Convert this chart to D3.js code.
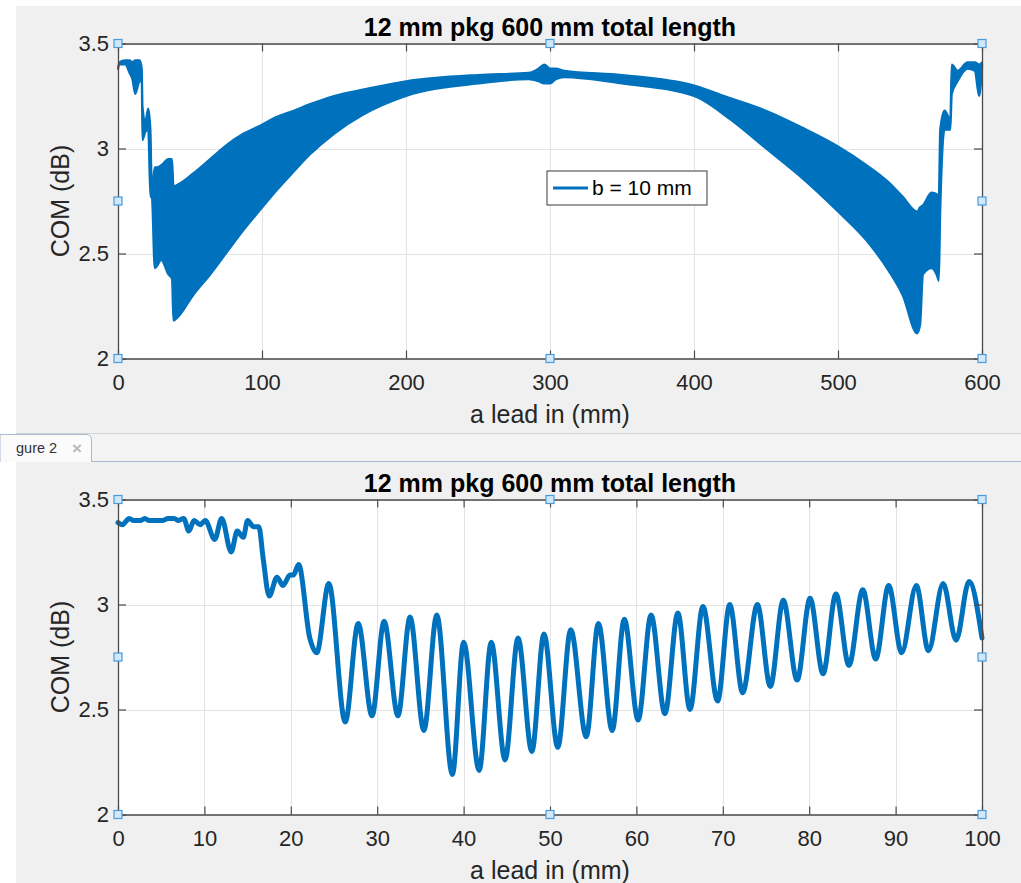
<!DOCTYPE html>
<html>
<head>
<meta charset="utf-8">
<script src="https://cdn.jsdelivr.net/npm/d3@7/dist/d3.min.js"></script>
<style>
  html, body { margin: 0; padding: 0; background: #ffffff; }
  svg { display: block; }
  text { font-family: "Liberation Sans", Arial, Helvetica, sans-serif; }
</style>
</head>
<body>
<svg id="chart" width="1021" height="883"></svg>
<script>
// ---------------- data ----------------
const titleText = "12 mm pkg 600 mm total length";
const xLabelText = "a lead in (mm)";
const yLabelText = "COM (dB)";
const legendLabel = "b = 10 mm";
const tabLabel = "gure 2";

const yTicks = [2, 2.5, 3, 3.5];
const topXTicks = [0, 100, 200, 300, 400, 500, 600];
const botXTicks = [0, 10, 20, 30, 40, 50, 60, 70, 80, 90, 100];

// Figure 1: envelope of the rapidly oscillating trace (a lead in, mm)
const topX = [0, 1, 5, 8, 10, 12, 15, 16.5, 17, 19, 21, 22.5, 23.5, 25.5, 27, 30, 35, 37.5, 38.5, 42, 52, 64, 76, 87, 99, 110, 122, 133, 150, 170, 200, 250, 285, 292, 296, 300, 304, 310, 350, 400, 425, 450, 475, 500, 520, 535, 545, 555, 557, 559, 565, 569, 570, 571, 574, 578, 579, 583, 590, 595, 598, 600];
const topUpper = [3.38, 3.41, 3.42, 3.42, 3.41, 3.42, 3.42, 3.38, 3.20, 3.13, 3.19, 3.09, 2.80, 2.91, 2.91, 2.92, 2.95, 2.95, 2.82, 2.83, 2.88, 2.95, 3.02, 3.07, 3.11, 3.15, 3.18, 3.21, 3.25, 3.28, 3.32, 3.35, 3.36, 3.38, 3.40, 3.38, 3.38, 3.37, 3.35, 3.30, 3.24, 3.18, 3.10, 3.01, 2.92, 2.84, 2.77, 2.70, 2.72, 2.73, 2.79, 2.78, 2.77, 3.09, 3.18, 3.14, 3.40, 3.37, 3.41, 3.41, 3.40, 3.41];
const topLower = [3.38, 3.40, 3.40, 3.36, 3.33, 3.26, 3.32, 3.32, 3.04, 3.08, 3.09, 2.77, 2.77, 2.43, 2.44, 2.47, 2.40, 2.38, 2.18, 2.20, 2.30, 2.40, 2.51, 2.61, 2.71, 2.80, 2.89, 2.97, 3.07, 3.16, 3.25, 3.31, 3.33, 3.32, 3.31, 3.31, 3.33, 3.34, 3.31, 3.25, 3.14, 3.00, 2.86, 2.70, 2.56, 2.42, 2.30, 2.12, 2.16, 2.40, 2.43, 2.39, 2.37, 2.70, 3.09, 3.09, 3.26, 3.32, 3.38, 3.37, 3.25, 3.38];

// Figure 2: zoom on first 100 mm (peaks and troughs)
const botX = [0, 0.5, 1.3, 1.8, 2.6, 3.1, 3.6, 5.2, 5.8, 6.5, 7.0, 7.6, 8.2, 8.8, 9.5, 10.1, 11.2, 12.0, 13.1, 13.8, 14.5, 15.0, 15.7, 16.3, 16.8, 17.5, 18.4, 19.1, 19.9, 20.3, 20.9, 22.2, 23.0, 24.4, 26.3, 27.8, 29.4, 30.8, 32.4, 33.8, 35.4, 36.9, 38.7, 40.0, 41.8, 43.2, 44.8, 46.3, 47.9, 49.3, 50.9, 52.4, 54.2, 55.6, 57.2, 58.6, 60.2, 61.7, 63.3, 64.8, 66.2, 67.7, 69.4, 70.8, 72.3, 74.0, 75.5, 77.0, 78.6, 80.1, 81.6, 83.1, 84.6, 86.2, 87.7, 89.2, 90.7, 92.4, 93.8, 95.5, 97.0, 98.5, 100];
const botY = [3.39, 3.38, 3.41, 3.40, 3.40, 3.41, 3.40, 3.40, 3.41, 3.41, 3.40, 3.41, 3.35, 3.40, 3.38, 3.40, 3.31, 3.41, 3.25, 3.35, 3.32, 3.40, 3.37, 3.37, 3.22, 3.04, 3.13, 3.09, 3.14, 3.14, 3.19, 2.84, 2.77, 3.10, 2.44, 2.91, 2.47, 2.92, 2.47, 2.94, 2.40, 2.95, 2.19, 2.82, 2.21, 2.82, 2.26, 2.84, 2.30, 2.86, 2.32, 2.88, 2.37, 2.91, 2.40, 2.93, 2.45, 2.95, 2.48, 2.96, 2.50, 2.99, 2.54, 3.00, 2.58, 3.00, 2.61, 3.02, 2.64, 3.03, 2.67, 3.05, 2.71, 3.07, 2.74, 3.09, 2.77, 3.09, 2.78, 3.10, 2.83, 3.11, 2.84];

// ---------------- drawing ----------------
const svg = d3.select("#chart");
const BLUE = "#0072bd";
const FIGBG = "#f0f0f0";
const AXC = "#4a4a4a";
const TXT = "#262626";

// figure backgrounds
svg.append("rect").attr("x", 16).attr("y", 6).attr("width", 1005).attr("height", 427).attr("fill", FIGBG);
svg.append("line").attr("x1", 16).attr("x2", 1021).attr("y1", 433.5).attr("y2", 433.5).attr("stroke", "#d4d4d4");
// tab strip
svg.append("rect").attr("x", 0).attr("y", 434).attr("width", 1021).attr("height", 27).attr("fill", "#f3f3f3");
svg.append("line").attr("x1", 0).attr("x2", 1021).attr("y1", 461.5).attr("y2", 461.5).attr("stroke", "#a9bbcf").attr("stroke-width", 1.2);
svg.append("path").attr("d", "M0,462 L0,434.5 L86,434.5 Q91.5,434.5 91.5,440 L91.5,462")
  .attr("fill", "#fbfbfb").attr("stroke", "#a9bbcf").attr("stroke-width", 1);
svg.append("text").attr("x", 16).attr("y", 453).attr("font-size", 14.5).attr("fill", "#333").text(tabLabel);
svg.append("text").attr("x", 72).attr("y", 454).attr("font-size", 17).attr("font-weight", "bold").attr("fill", "#b8b8b8").text("\u00d7");
svg.append("rect").attr("x", 16).attr("y", 462).attr("width", 1005).attr("height", 421).attr("fill", FIGBG);

function drawAxes(g, cfg) {
  const { x, y, xTicks } = cfg;
  const [x0, x1] = x.range();
  const [yb, yt] = y.range();
  g.append("rect").attr("x", x0).attr("y", yt).attr("width", x1 - x0).attr("height", yb - yt).attr("fill", "#ffffff");
  g.append("g").selectAll("line").data(xTicks).join("line")
    .attr("x1", d => Math.round(x(d)) + 0.5).attr("x2", d => Math.round(x(d)) + 0.5)
    .attr("y1", yt).attr("y2", yb).attr("stroke", "#e3e3e3").attr("stroke-width", 1);
  g.append("g").selectAll("line").data(yTicks).join("line")
    .attr("x1", x0).attr("x2", x1)
    .attr("y1", d => Math.round(y(d)) + 0.5).attr("y2", d => Math.round(y(d)) + 0.5)
    .attr("stroke", "#e3e3e3").attr("stroke-width", 1);
}

function drawFrame(g, cfg) {
  const { x, y, xTicks } = cfg;
  const [x0, x1] = x.range();
  const [yb, yt] = y.range();
  const tl = 8;
  const bottom = g.append("g").attr("transform", `translate(0,${yb})`)
    .call(d3.axisBottom(x).tickValues(xTicks).tickSize(-tl).tickSizeOuter(0).tickPadding(24).tickFormat(d3.format("d")));
  const top = g.append("g").attr("transform", `translate(0,${yt})`)
    .call(d3.axisTop(x).tickValues(xTicks).tickSize(-tl).tickSizeOuter(0).tickFormat(""));
  const left = g.append("g").attr("transform", `translate(${x0},0)`)
    .call(d3.axisLeft(y).tickValues(yTicks).tickSize(-tl).tickSizeOuter(0).tickPadding(9).tickFormat(d => String(d)));
  const right = g.append("g").attr("transform", `translate(${x1},0)`)
    .call(d3.axisRight(y).tickValues(yTicks).tickSize(-tl).tickSizeOuter(0).tickFormat(""));
  [bottom, top, left, right].forEach(a => {
    a.select(".domain").attr("stroke", AXC).attr("stroke-width", 1.3);
    a.selectAll(".tick line").attr("stroke", AXC).attr("stroke-width", 1.2);
    a.selectAll(".tick text").attr("fill", TXT).attr("font-size", 22)
      .attr("font-family", "'Liberation Sans', Arial, sans-serif");
  });
  bottom.selectAll(".tick text").attr("dy", "0.32em").attr("y", 24);
  left.selectAll(".tick text").attr("dy", "0.34em");

  g.append("text").attr("x", (x0 + x1) / 2).attr("y", yt - 8).attr("text-anchor", "middle")
    .attr("font-size", 25).attr("font-weight", "bold").attr("fill", "#000").text(titleText);
  g.append("text").attr("x", (x0 + x1) / 2).attr("y", yb + 64).attr("text-anchor", "middle")
    .attr("font-size", 25).attr("fill", TXT).text(xLabelText);
  g.append("text").attr("transform", `translate(${x0 - 49},${(yt + yb) / 2}) rotate(-90)`)
    .attr("text-anchor", "middle").attr("font-size", 25).attr("fill", TXT).text(yLabelText);

  const xm = (x0 + x1) / 2, ym = (yt + yb) / 2;
  const handles = [[x0, yt], [xm, yt], [x1, yt], [x0, ym], [x1, ym], [x0, yb], [xm, yb], [x1, yb]];
  g.append("g").selectAll("rect").data(handles).join("rect")
    .attr("x", d => d[0] - 4).attr("y", d => d[1] - 4).attr("width", 8).attr("height", 8)
    .attr("fill", "#cfe8fb").attr("stroke", "#4c9ad8").attr("stroke-width", 1.2);
}

// ---- top chart ----
const xTop = d3.scaleLinear().domain([0, 600]).range([118, 982]);
const yTop = d3.scaleLinear().domain([2, 3.5]).range([358.5, 43.5]);
const gTop = svg.append("g");
drawAxes(gTop, { x: xTop, y: yTop, xTicks: topXTicks });

const topPts = topX.map((d, i) => ({ x: d, hi: topUpper[i], lo: topLower[i] }));
const band = d3.area().x(d => xTop(d.x)).y0(d => yTop(d.lo)).y1(d => yTop(d.hi)).curve(d3.curveMonotoneX);
gTop.append("path").datum(topPts).attr("d", band).attr("fill", BLUE)
  .attr("stroke", BLUE).attr("stroke-width", 2.2).attr("stroke-linejoin", "round");

drawFrame(gTop, { x: xTop, y: yTop, xTicks: topXTicks });

// legend
const lg = gTop.append("g").attr("transform", "translate(547,171)");
lg.append("rect").attr("x", 0).attr("y", 0).attr("width", 160).attr("height", 34)
  .attr("fill", "#ffffff").attr("stroke", "#3a3a3a").attr("stroke-width", 1);
lg.append("line").attr("x1", 6).attr("x2", 41).attr("y1", 17).attr("y2", 17).attr("stroke", BLUE).attr("stroke-width", 3);
lg.append("text").attr("x", 45).attr("y", 17).attr("dy", "0.35em").attr("font-size", 21).attr("fill", "#000").text(legendLabel);

// ---- bottom chart ----
const xBot = d3.scaleLinear().domain([0, 100]).range([118, 982]);
const yBot = d3.scaleLinear().domain([2, 3.5]).range([814.5, 499.5]);
const gBot = svg.append("g");
drawAxes(gBot, { x: xBot, y: yBot, xTicks: botXTicks });
const botPts = botX.map((d, i) => ({ x: d, v: botY[i] }));
const line = d3.line().x(d => xBot(d.x)).y(d => yBot(d.v)).curve(d3.curveMonotoneX);
gBot.append("path").datum(botPts).attr("d", line).attr("fill", "none")
  .attr("stroke", BLUE).attr("stroke-width", 5).attr("stroke-linejoin", "round").attr("stroke-linecap", "round");
drawFrame(gBot, { x: xBot, y: yBot, xTicks: botXTicks });
</script>
</body>
</html>
